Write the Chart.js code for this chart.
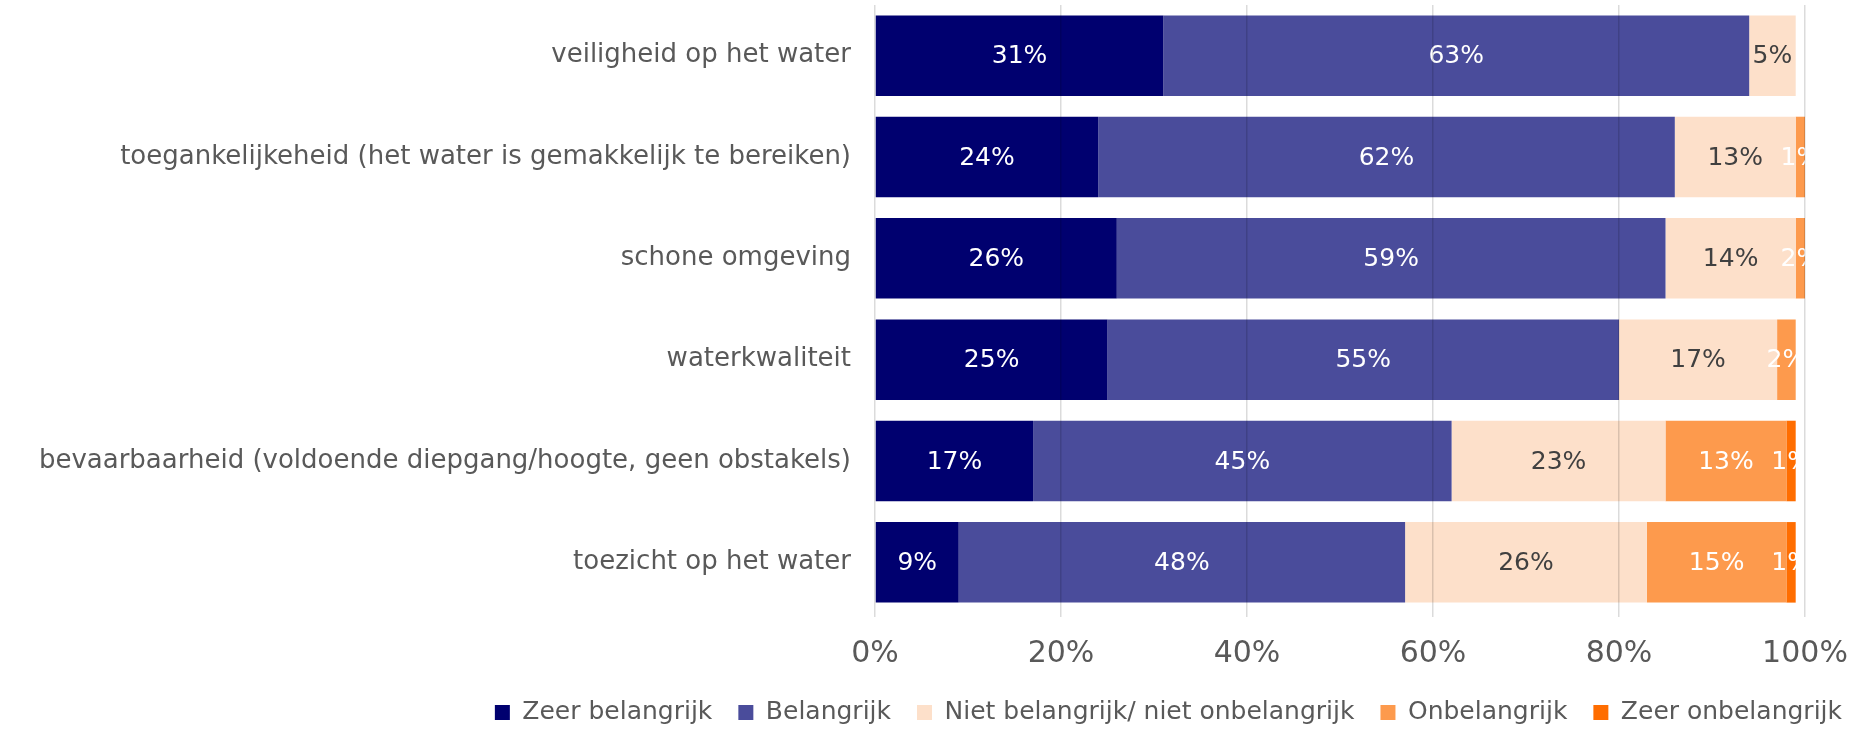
<!DOCTYPE html>
<html>
<head>
<meta charset="utf-8">
<script src="https://cdn.jsdelivr.net/npm/chart.js@4.4.1/dist/chart.umd.min.js"></script>
<style>
  html, body { margin: 0; padding: 0; background: #fff; }
  #wrap { width: 1849px; height: 731px; }
</style>
</head>
<body>
<div id="wrap"><canvas id="chart" width="1849" height="731"></canvas></div>
<script>
/* ── Data ── */
const categories = [
  'veiligheid op het water',
  'toegankelijkeheid (het water is gemakkelijk te bereiken)',
  'schone omgeving',
  'waterkwaliteit',
  'bevaarbaarheid (voldoende diepgang/hoogte, geen obstakels)',
  'toezicht op het water'
];
const seriesNames = ['Zeer belangrijk', 'Belangrijk', 'Niet belangrijk/ niet onbelangrijk', 'Onbelangrijk', 'Zeer onbelangrijk'];
const zeerBelangrijk = [31, 24, 26, 25, 17, 9];
const belangrijk = [63, 62, 59, 55, 45, 48];
const neutraal = [5, 13, 14, 17, 23, 26];
const onbelangrijk = [0, 1, 2, 2, 13, 15];
const zeerOnbelangrijk = [0, 0, 0, 0, 1, 1];
const xTicks = [0, 20, 40, 60, 80, 100];

const colors = ['#00006f', '#4a4c9b', '#fde0ca', '#fd9a4d', '#ff6d00'];
const labelColors = ['#ffffff', '#ffffff', '#404040', '#ffffff', '#ffffff'];
const FONT = '"DejaVu Sans", Lato, sans-serif';

const seriesValues = [zeerBelangrijk, belangrijk, neutraal, onbelangrijk, zeerOnbelangrijk];

/* ── Value labels inside the segments, clipped at the plot edge like the original ── */
const segmentLabels = {
  id: 'segmentLabels',
  afterDatasetsDraw(chart) {
    const ctx = chart.ctx;
    const area = chart.chartArea;
    ctx.save();
    ctx.beginPath();
    ctx.rect(area.left, area.top, area.right - area.left + 2, area.bottom - area.top);
    ctx.clip();
    ctx.font = '25px ' + FONT;
    ctx.textAlign = 'center';
    ctx.textBaseline = 'middle';
    chart.data.datasets.forEach((ds, i) => {
      const meta = chart.getDatasetMeta(i);
      meta.data.forEach((bar, j) => {
        const v = ds.data[j];
        if (!v) return;
        const x0 = Math.min(bar.base, area.right);
        const x1 = Math.min(bar.x, area.right);
        ctx.fillStyle = labelColors[i];
        ctx.fillText(v + '%', (x0 + x1) / 2, bar.y + 1);
      });
    });
    ctx.restore();
  }
};

new Chart(document.getElementById('chart'), {
  type: 'bar',
  data: {
    labels: categories,
    datasets: seriesNames.map((name, i) => ({
      label: name,
      data: seriesValues[i],
      backgroundColor: colors[i],
      borderWidth: 0,
      categoryPercentage: 1,
      barPercentage: 0.795,
      clip: 0
    }))
  },
  options: {
    indexAxis: 'y',
    responsive: false,
    animation: false,
    // legend sits a bit further right / lower than Chart.js puts it by default
    layout: { padding: { left: 0, right: -19, top: 5, bottom: -4 } },
    scales: {
      x: {
        stacked: true,
        min: 0,
        max: 100,
        afterBuildTicks: (scale) => { scale.ticks = xTicks.map(v => ({ value: v })); },
        afterFit: (scale) => {
          scale.height = 61;
          scale.paddingLeft = 0;
          scale.paddingRight = 44;
        },
        grid: { color: 'rgba(0,0,0,0.14)', lineWidth: 1.5, z: 1, tickLength: 4 },
        border: { display: false },
        ticks: {
          color: '#595959',
          font: { family: FONT, size: 30 },
          padding: 19,
          maxRotation: 0,
          callback: (v) => v + '%'
        }
      },
      y: {
        stacked: true,
        afterFit: (scale) => {
          scale.width = 875;
          scale.paddingTop = 0;
          scale.paddingBottom = 0;
        },
        grid: { display: false, drawTicks: false },
        border: { display: false },
        ticks: {
          color: '#595959',
          font: { family: FONT, size: 26 },
          padding: 24
        }
      }
    },
    plugins: {
      legend: {
        position: 'bottom',
        align: 'end',
        labels: {
          color: '#595959',
          font: { family: FONT, size: 25 },
          boxWidth: 15,
          boxHeight: 15,
          padding: 26
        }
      },
      tooltip: { enabled: false }
    }
  },
  plugins: [segmentLabels]
});
</script>
</body>
</html>
